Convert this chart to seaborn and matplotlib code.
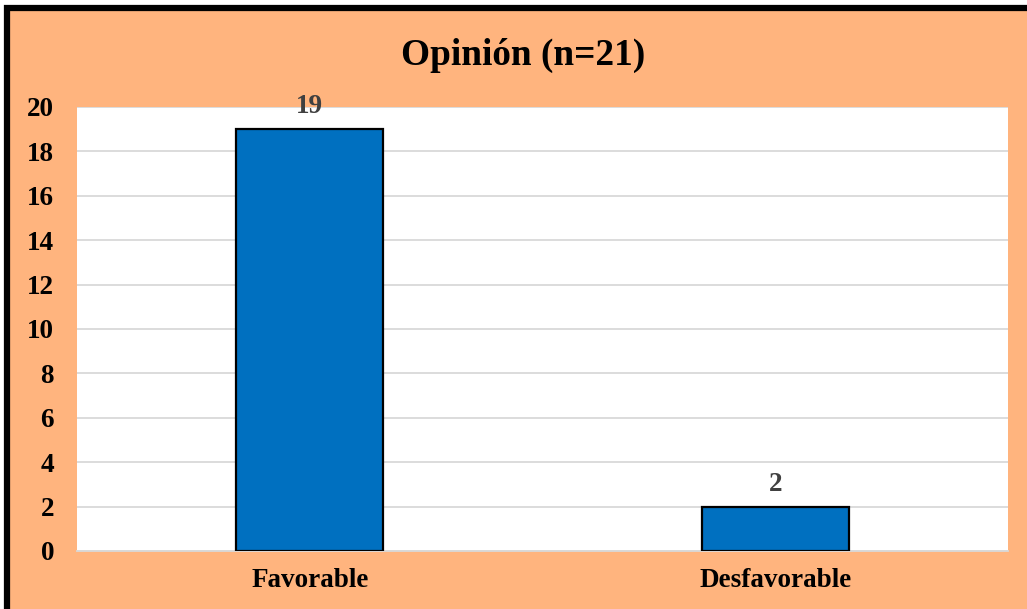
import matplotlib
matplotlib.use("Agg")
import matplotlib.pyplot as plt
import seaborn as sns
import pandas as pd
from matplotlib.patches import Rectangle

categories = ["Favorable", "Desfavorable"]
values = [19, 2]
yticks = [0, 2, 4, 6, 8, 10, 12, 14, 16, 18, 20]
title = "Opinión (n=21)"

sns.set_theme(style="white")
plt.rcParams['font.family'] = ['Liberation Serif', 'DejaVu Serif']

W, H = 1027, 609
fig = plt.figure(figsize=(W / 100, H / 100), dpi=100)
fig.patch.set_facecolor("white")

# orange chart area with black frame (partially cropped at right/bottom)
bx, by = 7 / W, 8 / H
fig.patches.append(Rectangle((bx, -0.1), 1.2, 1 - by + 0.1, transform=fig.transFigure,
                             facecolor="#FFB47E", edgecolor="black", linewidth=4.5,
                             zorder=-5))

left, right = 77 / W, 1008 / W
top, bottom = 1 - 107 / H, 1 - 551 / H
ax = fig.add_axes([left, bottom, right - left, top - bottom])
ax.set_zorder(2)
ax.set_facecolor("white")

df = pd.DataFrame({"cat": categories, "val": values})
sns.barplot(data=df, x="cat", y="val", ax=ax, color="#0070C0", saturation=1,
            width=0.315, edgecolor="black", linewidth=1.6, zorder=3)
for p in ax.patches:
    p.set_zorder(3)

ax.set_ylim(0, 20)
ax.set_xlim(-0.5, 1.5)
ax.set_yticks(yticks)
ax.yaxis.grid(True, color="#D9D9D9", linewidth=1.3, zorder=0)
ax.set_axisbelow(True)
for s in ["top", "right", "left"]:
    ax.spines[s].set_visible(False)
ax.spines["bottom"].set_color("#D9D9D9")
ax.spines["bottom"].set_linewidth(1.3)
ax.set_xlabel("")
ax.set_ylabel("")
ax.tick_params(axis="both", length=0, labelsize=19.5, colors="black")
ax.tick_params(axis="y", pad=16.5)
ax.tick_params(axis="x", pad=12)
for lab in ax.get_xticklabels() + ax.get_yticklabels():
    lab.set_fontweight("bold")

for c in ax.containers:
    ax.bar_label(c, labels=[str(v) for v in values], padding=7, fontsize=19.5,
                 fontweight="bold", color="#404040")

fig.text(523.5 / W, 1 - 55 / H, title, ha="center", va="center",
         fontsize=26.8, fontweight="bold", color="black")

fig.savefig("out.png", dpi=100)
